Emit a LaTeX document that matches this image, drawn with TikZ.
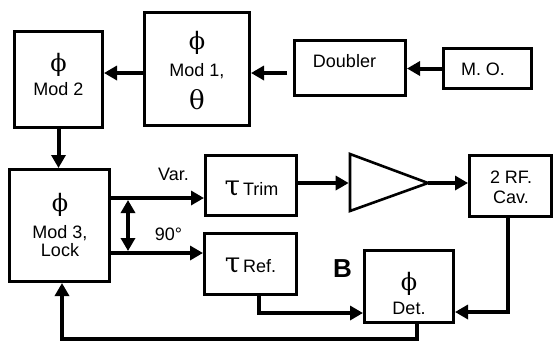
\documentclass[tikz,border=0pt]{standalone}
\usepackage{fontspec}
\setmainfont{Liberation Sans}
\newfontfamily\gkfont{DejaVu Serif}
\usetikzlibrary{arrows.meta,calc}
\newcommand\gkphi{{\gkfont\fontsize{24}{24}\selectfont ϕ}}
\newcommand\gktheta{{\gkfont\fontsize{26}{26}\selectfont θ}}
\newcommand\gktau{{\gkfont\fontsize{28}{28}\selectfont τ}}
\begin{document}
\begin{tikzpicture}[x=1pt,y=-1pt,
  box/.style={draw, line width=2.6pt, inner sep=0pt},
  conn/.style={line width=4pt, -{Triangle[length=13pt,width=14pt]}},
  lbl/.style={font=\fontsize{18}{20}\selectfont, inner sep=0pt, anchor=base},
  gk/.style={inner sep=0pt},
  bigb/.style={font=\fontsize{26}{28}\selectfont\bfseries, inner sep=0pt, anchor=base}]
\path[use as bounding box] (0,0) rectangle (554,341);
% boxes
\node[box, minimum width=105.4pt, minimum height=113.4pt] (mod1) at (197,69) {};
\node[box, minimum width=88.4pt, minimum height=96.4pt] (mod2) at (58.5,79.5) {};
\node[box, minimum width=111.4pt, minimum height=55.4pt] (doubler) at (350,68) {};
\node[box, minimum width=88.4pt, minimum height=40.4pt] (mo) at (487.5,68.5) {};
\node[box, minimum width=100.4pt, minimum height=112.4pt] (mod3) at (59.5,225.5) {};
\node[box, minimum width=91.4pt, minimum height=60.4pt] (trim) at (251,185.5) {};
\node[box, minimum width=92.4pt, minimum height=61.4pt] (ref) at (250.5,264) {};
\node[box, minimum width=82.4pt, minimum height=61.4pt] (cav) at (510.5,186) {};
\node[box, minimum width=89.4pt, minimum height=72.4pt] (det) at (409,286.5) {};
% amplifier
\coordinate (ampT) at (350,154);
\coordinate (ampB) at (350,211);
\coordinate (ampR) at (428,183);
\coordinate (ampL) at (348.7,183);
\draw[line width=2.6pt] (ampT) -- (ampB) -- (ampR) -- cycle;
% texts
\node[gk] (p1) at (197,43) {\gkphi};
\node[lbl] (t1) at (197,76) {Mod 1,};
\node[gk] (th1) at (197,100) {\gktheta};
\node[gk] (p2) at (58.5,65) {\gkphi};
\node[lbl] (t2) at (58.5,95) {Mod 2};
\node[gk] (p3) at (60,205) {\gkphi};
\node[lbl] (t3a) at (60,238) {Mod 3,};
\node[lbl] (t3b) at (60,256) {Lock};
\node[lbl] (tdb) at (344.5,67) {Doubler};
\node[lbl] (tmo) at (483,75) {M. O.};
\node[lbl] (ttrim) at (251.5,195) {\gktau\hspace{3pt}Trim};
\node[lbl] (tref) at (250.5,272) {\gktau\hspace{3pt}Ref.};
\node[lbl] (tcav1) at (511,183) {2 RF.};
\node[lbl] (tcav2) at (511,203) {Cav.};
\node[gk] (pd) at (409,284) {\gkphi};
\node[lbl] (tdet) at (409,314) {Det.};
\node[lbl] (tvar) at (173.5,180) {Var.};
\node[lbl] (t90) at (168.5,240) {90°};
\node[bigb] (tb) at (342.5,277) {B};
% connectors
\draw[conn] (mo.west) -- (mo.west -| doubler.east);
\coordinate (dstart) at ($(doubler.west)+(-6,5)$);
\draw[conn] (dstart) -- (dstart -| mod1.east);
\coordinate (m1out) at ($(mod1.west)+(0,4)$);
\draw[conn] (m1out) -- (m1out -| mod2.east);
\draw[conn] (mod2.south) -- (mod2.south |- mod3.north);
\coordinate (vA) at ($(mod3.east)+(0,-27.5)$);
\coordinate (rA) at ($(mod3.east)+(0,27.5)$);
\draw[conn] (vA) -- (vA -| trim.west);
\draw[conn] (rA) -- (rA -| ref.west);
\coordinate (dvA) at ($(vA)+(17,0)$);
\coordinate (drA) at ($(rA)+(17,0)$);
\draw[conn, {Triangle[length=13pt,width=14pt]}-{Triangle[length=13pt,width=14pt]}, shorten <=2pt, shorten >=2pt] (dvA) -- (drA);
\draw[conn] (trim.east |- ampL) -- (ampL);
\draw[conn] (ampR) -- (ampR -| cav.west);
\coordinate (refdrop) at ($(ref.south)+(8.5,0)$);
\draw[conn] (refdrop) |- ($(det.west)+(0,26.5)$);
\coordinate (cavdrop) at ($(cav.south)+(-2.5,0)$);
\draw[conn] (cavdrop) |- ($(det.east)+(0,25.5)$);
\coordinate (detdrop) at ($(det.south)+(8,0)$);
\draw[conn] (detdrop) -- ++(0,14.5) -| ($(mod3.south)+(2.5,0)$);
\end{tikzpicture}
\end{document}
